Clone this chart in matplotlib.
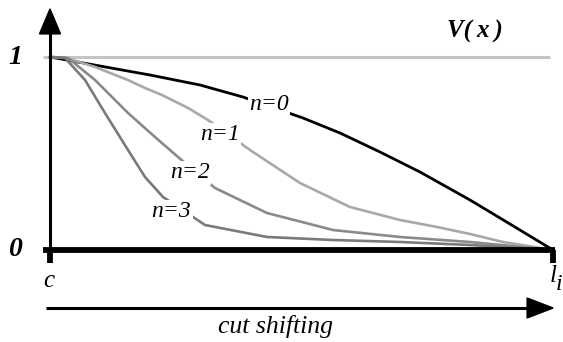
import matplotlib
matplotlib.use("Agg")
import matplotlib.pyplot as plt
from matplotlib.patches import FancyArrow

# normalized position between c (0) and l_i (1), and value V(x) in [0, 1]
t_n0 = [0.0, 0.0994, 0.1988, 0.2982, 0.3837, 0.5030, 0.5765, 0.6561, 0.7356, 0.8350, 0.9145, 1.0]
v_n0 = [1.0, 0.9534, 0.9067, 0.8549, 0.7927, 0.6839, 0.6062, 0.5078, 0.4041, 0.2591, 0.1347, 0.0]

t_n1 = [0.0, 0.0298, 0.0895, 0.1551, 0.1889, 0.2227, 0.2744, 0.3141, 0.3976, 0.4970,
        0.5964, 0.6958, 0.7694, 0.8350, 0.9006, 1.0]
v_n1 = [1.0, 0.9974, 0.9482, 0.8808, 0.8394, 0.8031, 0.7358, 0.6736, 0.5181, 0.3472,
        0.2228, 0.1554, 0.1192, 0.0829, 0.0415, 0.0]

t_n2 = [0.0, 0.0358, 0.0895, 0.1551, 0.2087, 0.2545, 0.3280, 0.4314, 0.5626, 0.6958, 0.8350, 1.0]
v_n2 = [1.0, 0.9948, 0.8808, 0.7098, 0.5855, 0.4819, 0.3212, 0.1917, 0.1036, 0.0674, 0.0415, 0.0]

t_n3 = [0.0, 0.0298, 0.0696, 0.1093, 0.1551, 0.1889, 0.2247, 0.3082, 0.4314, 0.5626,
        0.6958, 0.8350, 1.0]
v_n3 = [1.0, 0.9948, 0.8808, 0.7098, 0.5181, 0.3782, 0.2746, 0.1295, 0.0674, 0.0518,
        0.0415, 0.0259, 0.0]

series = [("n=0", t_n0, v_n0), ("n=1", t_n1, v_n1), ("n=2", t_n2, v_n2), ("n=3", t_n3, v_n3)]
colors = ["#000000", "#a8a8a8", "#8a8a8a", "#7a7a7a"]
label_pos = [(0.4354, 0.7513), (0.338, 0.596), (0.278, 0.399), (0.241, 0.197)]

W, H = 563, 342
x0, x1 = 50, 553
y1p, y0p = 57, 250
sx = x1 - x0
sy = y0p - y1p

fig = plt.figure(figsize=(W / 100, H / 100), dpi=100)
ax = fig.add_axes([0, 0, 1, 1])
ax.set_xlim(-x0 / sx, (W - x0) / sx)
ax.set_ylim((y0p - H) / sy, y0p / sy)
ax.axis("off")

serif = ["Liberation Serif", "DejaVu Serif"]

def px(dx):
    return dx / sx

def py(dy):
    return dy / sy

# V(x)=1 reference line
ax.plot([px(-7), px(500)], [1, 1], color="#c4c4c4", lw=2.2, solid_capstyle="butt", zorder=1)

# curves
for (name, t, v), c in zip(series, colors):
    ax.plot(t, v, color=c, lw=2.0 if c == "#000000" else 1.9, zorder=2,
            solid_capstyle="round", solid_joinstyle="round")

for (name, t, v), (lx, ly) in zip(series, label_pos):
    ax.text(lx, ly, name, family=serif, style="italic", fontsize=17,
            ha="center", va="center", zorder=4,
            bbox=dict(facecolor="white", edgecolor="none", pad=1.0))

# y axis with arrow
ax.plot([0, 0], [0, py(250 - 33)], color="black", lw=2.2, zorder=3, solid_capstyle="butt")
ax.add_patch(FancyArrow(0, py(250 - 34), 0, py(0.1), width=0, head_width=px(21),
                        head_length=py(25), length_includes_head=False,
                        color="black", zorder=3))
# zero line
ax.plot([px(-7), px(505)], [0, 0], color="black", lw=4.2, solid_capstyle="butt", zorder=3)
# ticks under c and l_i
for xt in (0, 1):
    ax.plot([xt, xt], [0, py(-13)], color="black", lw=4.2, solid_capstyle="butt", zorder=3)

# bottom arrow: cut shifting
ax.plot([px(-4), px(478)], [py(250 - 308)] * 2, color="black", lw=2.2, solid_capstyle="butt")
ax.add_patch(FancyArrow(px(477), py(250 - 308), px(0.1), 0, width=0, head_width=py(20),
                        head_length=px(26), color="black"))

# labels
ax.text(px(-35), 1, "1", family=serif, style="italic", weight="bold", fontsize=20,
        ha="center", va="center")
ax.text(px(-35), 0, "0", family=serif, style="italic", weight="bold", fontsize=20,
        ha="center", va="center")
ax.text(px(425), py(250 - 31), "V(\u2009x\u2009)", family=serif, style="italic", weight="bold",
        fontsize=18, ha="center", va="center")
ax.text(px(-1), py(250 - 281), "c", family=serif, style="italic", fontsize=18,
        ha="center", va="center")
ax.text(px(503), py(250 - 276), "l", family=serif, style="italic", fontsize=18,
        ha="center", va="center")
ax.text(px(509), py(250 - 285), "i", family=serif, style="italic", fontsize=17,
        ha="center", va="center")
ax.text(px(225), py(250 - 327), "cut shifting", family=serif, style="italic",
        fontsize=18.5, ha="center", va="center")

fig.savefig("out.png", dpi=100, facecolor="white")
